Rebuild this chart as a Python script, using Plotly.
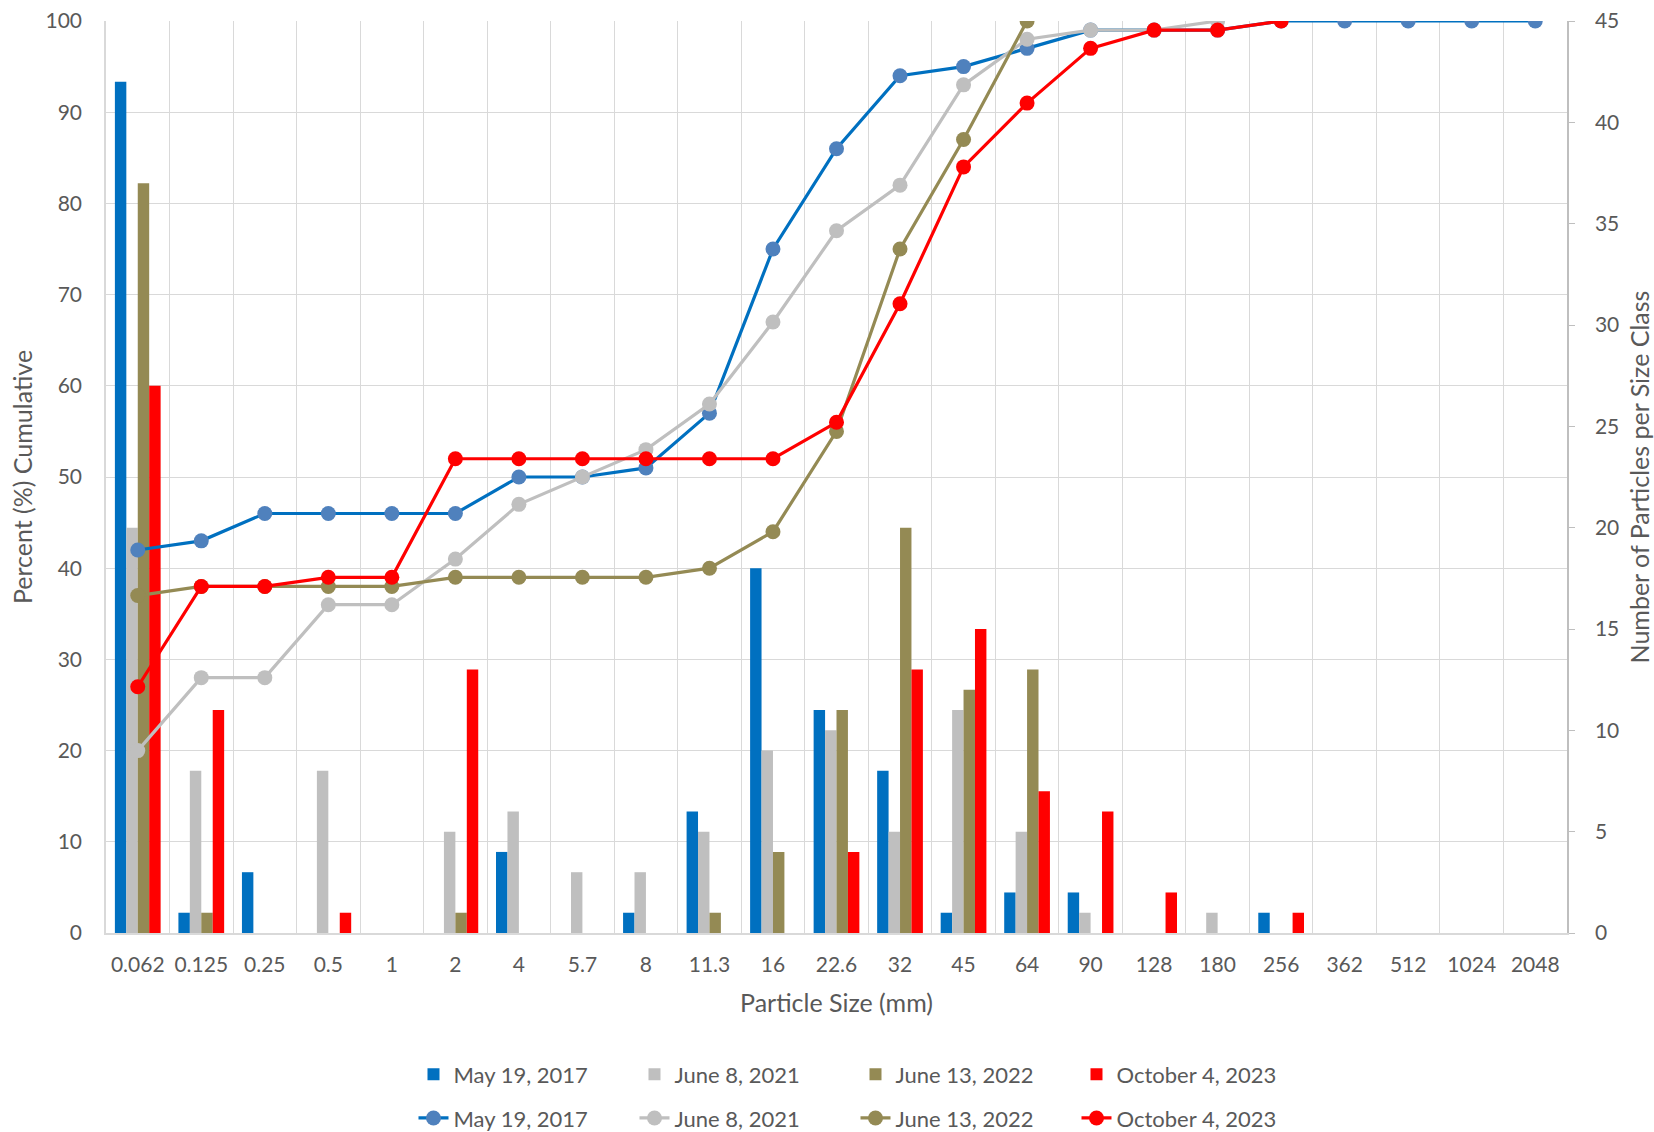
import plotly.graph_objects as go

sizes = ["0.062", "0.125", "0.25", "0.5", "1", "2", "4", "5.7", "8", "11.3", "16", "22.6",
         "32", "45", "64", "90", "128", "180", "256", "362", "512", "1024", "2048"]

series_names = ["May 19, 2017", "June 8, 2021", "June 13, 2022", "October 4, 2023"]

# Number of particles per size class (right axis)
count_2017 = [42, 1, 3, 0, 0, 0, 4, 0, 1, 6, 18, 11, 8, 1, 2, 2, 0, 0, 1, 0, 0, 0, 0]
count_2021 = [20, 8, 0, 8, 0, 5, 6, 3, 3, 5, 9, 10, 5, 11, 5, 1, 0, 1, 0, 0, 0, 0, 0]
count_2022 = [37, 1, 0, 0, 0, 1, 0, 0, 0, 1, 4, 11, 20, 12, 13, 0, 0, 0, 0, 0, 0, 0, 0]
count_2023 = [27, 11, 0, 1, 0, 13, 0, 0, 0, 0, 0, 4, 13, 15, 7, 6, 2, 0, 1, 0, 0, 0, 0]

# Percent cumulative (left axis)
cum_2017 = [42, 43, 46, 46, 46, 46, 50, 50, 51, 57, 75, 86, 94, 95, 97, 99, 99, 99, 100, 100, 100, 100, 100]
cum_2021 = [20, 28, 28, 36, 36, 41, 47, 50, 53, 58, 67, 77, 82, 93, 98, 99, 99, 100]
cum_2022 = [37, 38, 38, 38, 38, 39, 39, 39, 39, 40, 44, 55, 75, 87, 100]
cum_2023 = [27, 38, 38, 39, 39, 52, 52, 52, 52, 52, 52, 56, 69, 84, 91, 97, 99, 99, 100]

bar_colors = ["#0070C0", "#BFBFBF", "#948A54", "#FF0000"]
line_colors = ["#0070C0", "#BFBFBF", "#948A54", "#FF0000"]
marker_colors = ["#4F81BD", "#BFBFBF", "#948A54", "#FF0000"]

counts = [count_2017, count_2021, count_2022, count_2023]
cums = [cum_2017, cum_2021, cum_2022, cum_2023]

FONT = "Lato"
TXT = "#595959"
GRID = "#D9D9D9"

fig = go.Figure()

for name, vals, col in zip(series_names, counts, bar_colors):
    fig.add_trace(go.Bar(x=sizes, y=vals, name=name, marker=dict(color=col, line=dict(width=0)),
                         yaxis="y", legend="legend"))

for name, vals, lc, mc in zip(series_names, cums, line_colors, marker_colors):
    fig.add_trace(go.Scatter(x=sizes[:len(vals)], y=vals, name=name, mode="lines+markers",
                             line=dict(color=lc, width=3.2),
                             marker=dict(color=mc, size=15),
                             yaxis="y2", legend="legend2"))

fig.update_layout(
    width=1654, height=1132,
    margin=dict(l=105.5, r=86.5, t=21, b=198.5, autoexpand=False),
    paper_bgcolor="white", plot_bgcolor="white",
    font=dict(family=FONT, size=21, color=TXT),
    barmode="group", bargap=0.28, bargroupgap=0,
    xaxis=dict(type="category", categoryorder="array", categoryarray=sizes,
               tickson="boundaries", showgrid=True, gridcolor=GRID, gridwidth=1,
               showline=True, linecolor=GRID, linewidth=1.5, automargin=False,
               ticks="", ticklabelstandoff=12, ticklabeloverflow="allow",
               tickfont=dict(size=21, color=TXT),
               title=dict(text="Particle Size (mm)", font=dict(size=25, color=TXT), standoff=20),
               range=[-0.5, len(sizes) - 0.5]),
    yaxis=dict(side="right", range=[0, 45], dtick=5, tick0=0, showgrid=False, zeroline=False,
               showline=True, linecolor="#BFBFBF", linewidth=1.5, automargin=False,
               ticks="outside", ticklen=6, tickcolor="#BFBFBF", ticklabelstandoff=16,
               ticklabeloverflow="allow",
               tickfont=dict(size=21, color=TXT),
               title=dict(text="Number of Particles per Size Class", font=dict(size=25, color=TXT), standoff=37)),
    yaxis2=dict(side="left", overlaying="y", range=[0, 100], dtick=10, tick0=0,
                showgrid=True, gridcolor=GRID, gridwidth=1, zeroline=False,
                showline=True, linecolor=GRID, linewidth=1.5, automargin=False,
                ticks="outside", ticklen=18, tickcolor="rgba(0,0,0,0)",
                ticklabeloverflow="allow",
                tickfont=dict(size=21, color=TXT),
                title=dict(text="Percent (%) Cumulative", font=dict(size=25, color=TXT), standoff=6)),
    legend=dict(orientation="h", x=0.513, xanchor="center", y=-0.155, yanchor="middle",
                font=dict(size=22, color=TXT), entrywidth=176, entrywidthmode="pixels",
                bgcolor="rgba(0,0,0,0)", traceorder="normal"),
    legend2=dict(orientation="h", x=0.513, xanchor="center", y=-0.203, yanchor="middle",
                 font=dict(size=22, color=TXT), entrywidth=176, entrywidthmode="pixels",
                 bgcolor="rgba(0,0,0,0)", traceorder="normal"),
)

# remove the default 8px page margin so the figure fills the window exactly
fig.write_html("out.html", config={"displayModeBar": False},
               post_script="document.body.style.margin='0px';")
